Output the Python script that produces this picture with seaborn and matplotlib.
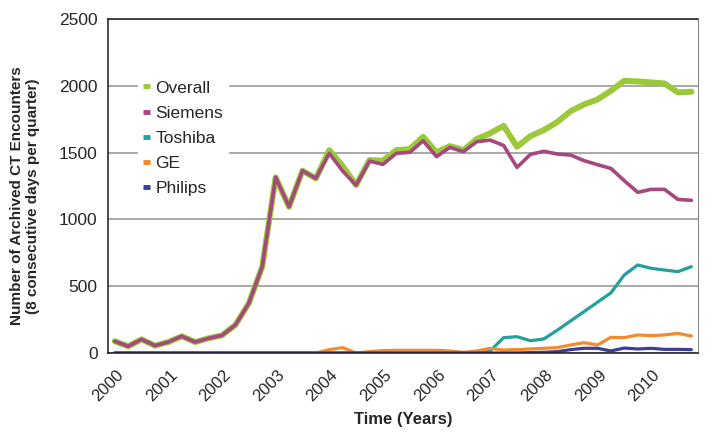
import numpy as np
import pandas as pd
import matplotlib
matplotlib.use("Agg")
import matplotlib.pyplot as plt
import seaborn as sns

# quarterly counts, 2000 Q1 .. 2010 Q4
overall = [88, 50, 102, 55, 82, 125, 82, 110, 132, 210, 372, 646,
           1315, 1095, 1365, 1307, 1519, 1400, 1257, 1445, 1440, 1519,
           1527, 1619, 1502, 1549, 1519, 1602, 1645, 1701, 1544, 1624,
           1669, 1729, 1811, 1861, 1898, 1963, 2038, 2033, 2026, 2018,
           1951, 1956]
siemens = [88, 50, 102, 55, 82, 125, 82, 110, 132, 210, 372, 646,
           1315, 1095, 1365, 1307, 1495, 1362, 1257, 1437, 1412, 1495,
           1502, 1589, 1470, 1540, 1507, 1582, 1594, 1554, 1390, 1487,
           1510, 1490, 1482, 1440, 1410, 1382, 1290, 1203, 1225, 1225,
           1150, 1143]
toshiba = [0] * 28 + [15, 115, 122, 92, 105, 170, 240, 310, 380, 450,
                      584, 659, 634, 621, 609, 646]
ge = [0] * 16 + [25, 40, 0, 10, 18, 20, 20, 20, 20, 15, 5, 15, 35, 22,
                 25, 30, 35, 40, 60, 77, 60, 117, 115, 135, 130, 135,
                 147, 127]
philips = [0] * 31 + [3, 5, 10, 25, 35, 35, 15, 37, 30, 35, 27, 27, 25]
years = list(range(2000, 2011))

t = 2000 + (np.arange(len(overall)) + 0.5) / 4
df = pd.DataFrame({"t": t, "Overall": overall, "Siemens": siemens,
                   "Toshiba": toshiba, "GE": ge, "Philips": philips})

sns.set_style("white")
plt.rcParams["font.family"] = ["Liberation Sans", "DejaVu Sans"]

fig = plt.figure(figsize=(7.13, 4.44), dpi=100)
ax = fig.add_axes([0.1515, 0.205, 0.8275, 0.752])

styles = {
    "Overall": ("#9cc93a", 4.3),
    "Siemens": ("#a4487e", 2.6),
    "Toshiba": ("#22a09a", 2.3),
    "GE": ("#f5892e", 2.3),
    "Philips": ("#3c3e98", 2.3),
}
for name, (col, lw) in styles.items():
    sns.lineplot(data=df, x="t", y=name, ax=ax, color=col, linewidth=lw,
                 label=name, solid_capstyle="round")

ax.set_xlim(2000, 2011)
ax.set_ylim(0, 2500)
ax.set_xticks(list(range(2000, 2012)))
ax.set_xticklabels([str(y) for y in years] + [""], rotation=45, ha="center",
                   fontsize=12)
ax.set_yticks(range(0, 2501, 500))
ax.tick_params(axis="y", labelsize=12.5, length=4, width=1, color="#333333")
ax.tick_params(axis="x", length=5, width=1, color="#333333", pad=5)
ax.yaxis.grid(True, color="#9a9a9a", linewidth=1.2)
ax.set_axisbelow(True)

for s in ["left", "top", "bottom"]:
    ax.spines[s].set_color("#1a1a1a")
    ax.spines[s].set_linewidth(1.1)
ax.spines["right"].set_color("#8a8a8a")

ax.set_xlabel("Time (Years)", fontsize=12, fontweight="bold", labelpad=6)
ax.set_ylabel("Number of Archived CT Encounters\n(8 consecutive days per quarter)",
              fontsize=11, fontweight="bold")
ax.yaxis.set_label_coords(-0.115, 0.47)

leg = ax.legend(loc="upper left", bbox_to_anchor=(0.036, 0.858), frameon=True,
                fontsize=12.5, handlelength=0.4, handletextpad=0.3,
                labelspacing=0.58, borderpad=0.3, fancybox=False)
leg.get_frame().set_edgecolor("white")
leg.get_frame().set_facecolor("white")
leg.get_frame().set_alpha(1)
for h in leg.get_lines():
    h.set_linewidth(3.5)
    h.set_solid_capstyle("butt")

fig.savefig("out.png", dpi=100, facecolor="white")
